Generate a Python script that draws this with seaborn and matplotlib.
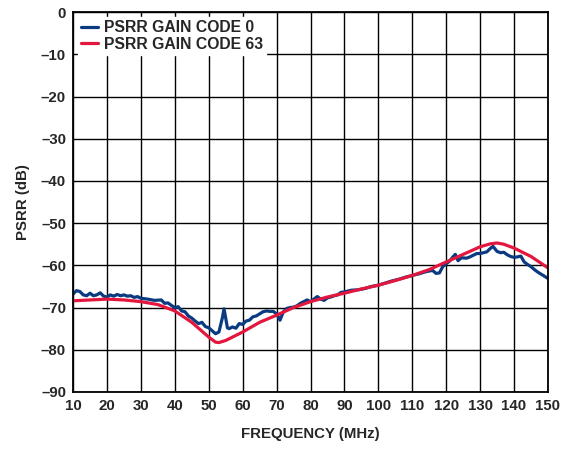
import numpy as np
import pandas as pd
import seaborn as sns
import matplotlib.pyplot as plt

# PSRR vs frequency, gain code 0 (blue) and gain code 63 (red)
freq_code0 = [10, 11, 12, 13, 14, 15, 16, 17, 18, 19, 20, 21, 22, 23, 24, 25, 26, 27, 28, 29,
              30, 32, 34, 36, 37, 38, 39, 40, 41, 42, 43, 44, 45, 46, 47, 48, 49, 50, 51, 52,
              53, 54, 54.5, 55, 55.5, 56, 57, 58, 59, 60, 61, 62, 63, 64, 65, 66, 67, 68, 69, 70,
              71, 72, 73, 74, 75, 76, 77, 78, 79, 80, 81, 82, 83, 84, 85, 86, 87, 88, 89, 90,
              92, 94, 96, 98, 100, 102, 104, 106, 108, 110, 112, 114, 116, 117, 118, 119, 120,
              121, 122, 122.7, 123.5, 124.5, 126, 127, 128, 129, 130, 131, 132, 133, 133.8,
              135, 136, 137, 138, 139, 140, 141, 142, 143, 144, 145, 146, 147, 148, 149, 150]
psrr_code0 = [-66.8, -66.0, -66.2, -67.0, -67.2, -66.6, -67.2, -67.0, -66.5, -67.3, -67.5, -67.0,
              -67.3, -66.9, -67.2, -67.0, -67.3, -67.2, -67.6, -67.4,
              -67.8, -68.0, -68.3, -68.2, -69.0, -68.9, -69.5, -70.0, -69.8, -70.8, -71.0, -72.0,
              -72.5, -73.2, -73.8, -73.5, -74.5, -74.8, -75.5, -76.2,
              -75.8, -72.5, -70.3, -72.5, -74.8, -75.0, -74.6, -74.9, -73.8, -74.0, -73.2, -73.0,
              -72.2, -72.0, -71.5, -71.0, -70.8, -70.9, -70.9, -71.5,
              -73.0, -71.0, -70.2, -70.0, -69.9, -69.6, -69.0, -68.6, -68.2, -68.6, -68.0, -67.4,
              -68.0, -68.3, -67.7, -67.5, -67.2, -67.0, -66.4, -66.3,
              -65.9, -65.8, -65.5, -65.0, -64.7, -64.2, -63.7, -63.3, -62.8, -62.4, -62.0, -61.5,
              -61.2, -61.9, -61.8, -60.3, -59.6,
              -59.0, -58.0, -57.4, -58.9, -58.2, -58.3, -58.0, -57.6, -57.2, -57.2, -57.0, -56.8,
              -56.0, -55.5,
              -56.7, -57.0, -56.9, -57.5, -57.9, -58.1, -58.0, -57.8, -59.2, -59.8, -60.3, -61.0,
              -61.6, -62.1, -62.6, -63.1]

freq_code63 = [10, 15, 20, 25, 30, 35, 40, 45, 50, 52, 53, 55, 60, 65, 70, 75, 80, 85, 90, 95,
               100, 105, 110, 115, 120, 125, 130, 133, 135, 137, 140, 145, 150]
psrr_code63 = [-68.4, -68.2, -68.0, -68.2, -68.6, -69.3, -70.8, -73.5, -77.0, -78.2, -78.3, -77.8,
               -75.8, -73.5, -71.8, -70.0, -68.6, -67.5, -66.6, -65.6, -64.7, -63.6, -62.4, -61.0,
               -59.2, -57.4, -55.6, -54.9, -54.7, -55.0, -55.9, -57.9, -60.6]

labels = ["PSRR GAIN CODE 0", "PSRR GAIN CODE 63"]
colors = ["#0a3a80", "#e3173e"]

df = pd.concat([
    pd.DataFrame({"freq": freq_code0, "psrr": psrr_code0, "series": labels[0]}),
    pd.DataFrame({"freq": freq_code63, "psrr": psrr_code63, "series": labels[1]}),
])

sns.set_style("white")
plt.rcParams["font.family"] = ["Liberation Sans", "DejaVu Sans"]
plt.rcParams["font.weight"] = "bold"

fig = plt.figure(figsize=(5.62, 4.5), dpi=100)
ax = fig.add_axes([0.130, 0.129, 0.845, 0.844])
sns.lineplot(data=df, x="freq", y="psrr", hue="series", palette=colors,
             linewidth=2.3, ax=ax, sort=False, estimator=None)

ax.set_xlim(10, 150)
ax.set_ylim(-90, 0)
ax.set_xticks(np.arange(10, 151, 10))
ax.set_yticks(np.arange(-90, 1, 10))
ax.set_yticklabels([str(v).replace("-", "\u2013") for v in range(-90, 1, 10)])
ax.tick_params(axis="both", length=0, labelsize=10.8, pad=5)
for lab in ax.get_xticklabels() + ax.get_yticklabels():
    lab.set_fontweight("bold")
ax.grid(True, color="black", linewidth=1.0)
ax.set_axisbelow(True)
for s in ax.spines.values():
    s.set_color("black")
    s.set_linewidth(1.3)

ax.set_xlabel("FREQUENCY (MHz)", fontsize=10.8, fontweight="bold", labelpad=10)
ax.set_ylabel("PSRR (dB)", fontsize=10.8, fontweight="bold", labelpad=8)

leg = ax.legend(loc="upper left", frameon=True, fontsize=11.3, handlelength=1.1,
                handletextpad=0.35, borderpad=0.2, labelspacing=0.1,
                borderaxespad=0.3, fancybox=False)
leg.get_frame().set_edgecolor("white")
leg.get_frame().set_facecolor("white")
leg.get_frame().set_alpha(1)
for t in leg.get_texts():
    t.set_fontweight("bold")

fig.savefig("out.png", dpi=100)
plt.close(fig)
